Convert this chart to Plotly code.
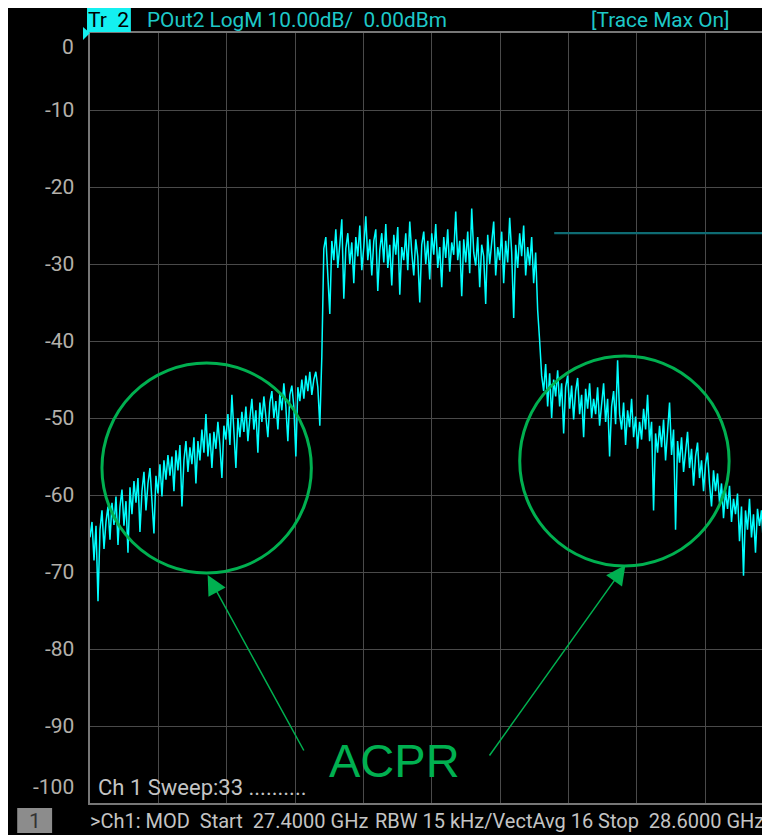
import numpy as np
import plotly.graph_objects as go

# ---------------- data ----------------
start_ghz = 27.4
stop_ghz = 28.6

left_skirt_db = [
    -65.5, -63.5, -68.5, -64.0, -73.8, -64.5, -62.0, -67.0, -63.5, -61.5,
    -65.8, -61.0, -63.9, -60.2, -66.5, -61.5, -59.3, -64.0, -60.8, -67.5,
    -59.0, -62.5, -58.2, -61.0, -57.8, -64.8, -59.5, -57.0, -62.0, -58.5,
    -56.5, -60.5, -65.0, -57.5, -59.8, -56.0, -60.2, -55.5, -58.0, -54.8,
    -57.5, -55.0, -59.5, -54.2, -56.8, -53.5, -61.5, -55.5, -53.0, -57.0,
    -53.8, -56.0, -52.5, -58.5, -53.0, -55.5, -51.5, -54.5, -49.5, -55.0,
    -52.0, -56.5, -51.8, -54.0, -50.5, -53.5, -57.8, -51.0, -52.8, -49.5,
    -53.5, -47.0, -51.5, -56.5, -50.0, -52.5, -49.2, -51.8, -48.5, -53.0,
    -50.0, -47.5, -51.5, -49.0, -54.5, -48.0, -50.5, -47.2, -49.8, -52.5,
    -48.0, -46.5, -50.0, -47.8, -51.5, -46.8, -49.0, -45.5, -48.5, -53.0,
    -47.0, -45.8, -48.5, -55.0, -46.0, -47.8, -45.0, -47.5, -44.5, -46.5,
    -44.0, -47.0, -45.0, -44.0, -46.0, -51.0, -42.0,
]

main_band_db = [
    -28.0, -26.5, -31.0, -36.5, -27.0, -29.5, -25.5, -30.5, -27.5, -24.2,
    -34.5, -28.0, -26.0, -30.0, -27.2, -32.5, -26.5, -29.0, -25.0, -30.8,
    -27.8, -23.8, -29.5, -26.8, -31.5, -27.0, -25.5, -33.5, -28.2, -26.0,
    -29.8, -24.8, -30.5, -27.5, -32.8, -26.2, -28.8, -25.2, -34.0, -27.8,
    -29.5, -26.0, -30.8, -24.5, -28.5, -31.5, -26.8, -29.0, -35.0, -27.5,
    -25.8, -30.0, -27.0, -32.0, -26.0, -28.8, -24.8, -30.5, -27.8, -33.0,
    -26.5, -29.2, -25.5, -31.0, -27.2, -28.8, -23.2, -29.5, -27.0, -34.2,
    -26.8, -29.8, -25.8, -31.2, -22.8, -28.5, -30.2, -26.5, -33.0, -27.5,
    -29.0, -35.2, -26.2, -30.0, -27.2, -24.5, -31.5, -27.8, -29.5, -25.8,
    -32.5, -27.0, -29.8, -24.0, -28.5, -37.0, -27.5, -30.5, -26.0, -29.0,
    -25.0, -31.5, -27.8, -30.2, -26.5, -32.5, -28.5, -36.0,
]

right_skirt_db = [
    -40.0, -44.5, -46.5, -43.0, -48.5, -44.2, -50.0, -45.0, -47.2, -43.8,
    -48.5, -45.5, -52.0, -46.0, -44.5, -48.8, -45.8, -50.2, -46.5, -44.8,
    -49.5, -47.0, -52.5, -46.2, -48.8, -45.5, -50.0, -47.5, -49.5, -46.0,
    -51.0, -48.0, -45.5, -50.5, -47.5, -55.0, -48.5, -46.5, -50.8, -42.5,
    -49.5, -51.5, -48.0, -53.5, -49.0, -51.2, -47.5, -52.5, -49.8, -54.0,
    -50.5, -52.8, -48.8, -51.5, -47.0, -53.0, -50.5, -62.0, -52.0, -54.5,
    -51.0, -53.8, -50.2, -55.5, -52.2, -48.0, -54.8, -51.5, -64.5, -53.0,
    -55.8, -52.5, -57.0, -53.8, -51.8, -56.5, -54.0, -58.8, -55.0, -53.2,
    -57.8, -55.5, -59.5, -56.0, -54.5, -58.5, -61.5, -56.8, -59.5, -57.2,
    -61.0, -58.5, -63.0, -59.5, -61.8, -58.8, -63.5, -60.5, -62.5, -59.8,
    -66.0, -61.5, -70.5, -62.0, -64.5, -60.5, -65.5, -62.5, -67.5, -61.8,
    -64.0, -62.0, -66.8, -63.0, -68.0, -63.5, -65.5, -62.5,
]

ref_line_ghz = [28.215, 28.6]
ref_line_db = [-26.0, -26.0]

y_tick_vals = [0, -10, -20, -30, -40, -50, -60, -70, -80, -90, -100]
y_tick_text = ["0", "-10", "-20", "-30", "-40", "-50", "-60", "-70", "-80", "-90", "-100"]

trace_db = left_skirt_db + main_band_db + right_skirt_db
freq_ghz = np.linspace(start_ghz, stop_ghz, len(trace_db))

# ---------------- layout helpers ----------------
# the page body adds an 8px margin, so the figure is 8px smaller
OFF = 8
W, H = 770 - OFF, 835 - OFF
L, R, T, B = 90, 770, 33, 803  # plot area in screen pixels


def xp(px):
    return (px - L) / (R - L)


def yp(py):
    return (B - py) / (B - T)


FONT = "Roboto, Liberation Sans, sans-serif"
CYAN = "#00ffff"
HDR = "#1ec8c8"
GRAY_TXT = "#c4c4c4"
GREEN = "#00b050"

span = stop_ghz - start_ghz
x_end = start_ghz + span * (R - L) / 685.5

fig = go.Figure()
fig.add_trace(go.Scatter(x=freq_ghz, y=trace_db, mode="lines",
                         line=dict(color=CYAN, width=1.5), hoverinfo="skip"))
fig.add_trace(go.Scatter(x=ref_line_ghz, y=ref_line_db, mode="lines",
                         line=dict(color="#0e6b73", width=2.2), hoverinfo="skip"))

shapes = []
# Tr 2 box
shapes.append(dict(type="rect", xref="paper", yref="paper", x0=xp(87), x1=xp(131),
                   y0=yp(7), y1=yp(32), fillcolor="#14f0f0", line=dict(width=0)))
# reference marker triangle
shapes.append(dict(type="path", xref="paper", yref="paper",
                   path="M {} {} L {} {} L {} {} Z".format(xp(83), yp(27), xp(90), yp(33), xp(83), yp(40)),
                   fillcolor="#14f0f0", line=dict(width=0)))
# channel box "1"
shapes.append(dict(type="rect", xref="paper", yref="paper", x0=xp(17), x1=xp(52),
                   y0=yp(808), y1=yp(833), fillcolor="#8c8c8c", line=dict(width=0)))
# ACPR circles
for cx, cy in [(207, 468), (626, 461)]:
    shapes.append(dict(type="circle", xref="paper", yref="paper",
                       x0=xp(cx - 105), x1=xp(cx + 105), y0=yp(cy + 105), y1=yp(cy - 105),
                       line=dict(color=GREEN, width=3)))

ann = []
for v, t in zip(y_tick_vals, y_tick_text):
    yy = v
    if v == 0:
        yy = -1.8
    elif v == -100:
        yy = -97.9
    ann.append(dict(x=xp(76), xref="paper", y=yy, yref="y", text=t, showarrow=False,
                    xanchor="right", yanchor="middle",
                    font=dict(family=FONT, size=21, color="#b4b0aa")))

ann.append(dict(x=xp(109), y=yp(20), xref="paper", yref="paper", text="Tr\u00a0\u00a02",
                showarrow=False, xanchor="center", yanchor="middle",
                font=dict(family=FONT, size=21, color="black")))
ann.append(dict(x=xp(145), y=yp(20), xref="paper", yref="paper",
                text="POut2 LogM 10.00dB/\u00a0\u00a00.00dBm",
                showarrow=False, xanchor="left", yanchor="middle",
                font=dict(family=FONT, size=20.8, color=HDR)))
ann.append(dict(x=xp(733), y=yp(20), xref="paper", yref="paper",
                text="[Trace Max On]",
                showarrow=False, xanchor="right", yanchor="middle",
                font=dict(family=FONT, size=20.8, color=HDR)))
ann.append(dict(x=xp(96), y=yp(787), xref="paper", yref="paper",
                text="Ch 1 Sweep:33 ..........",
                showarrow=False, xanchor="left", yanchor="middle",
                font=dict(family=FONT, size=22, color=GRAY_TXT)))
ann.append(dict(x=xp(34.5), y=yp(820.5), xref="paper", yref="paper", text="1",
                showarrow=False, xanchor="center", yanchor="middle",
                font=dict(family=FONT, size=21, color="#333333")))
ann.append(dict(x=xp(88), y=yp(821), xref="paper", yref="paper",
                text=">Ch1: MOD\u00a0 Start\u00a0 27.4000 GHz",
                showarrow=False, xanchor="left", yanchor="middle",
                font=dict(family=FONT, size=20, color=GRAY_TXT)))
ann.append(dict(x=xp(374), y=yp(821), xref="paper", yref="paper",
                text="RBW 15 kHz/VectAvg 16",
                showarrow=False, xanchor="left", yanchor="middle",
                font=dict(family=FONT, size=20, color=GRAY_TXT)))
ann.append(dict(x=xp(768), y=yp(821), xref="paper", yref="paper",
                text="Stop\u00a0 28.6000 GHz",
                showarrow=False, xanchor="right", yanchor="middle",
                font=dict(family=FONT, size=20, color=GRAY_TXT)))
ann.append(dict(x=xp(395), y=yp(760), xref="paper", yref="paper", text="ACPR",
                showarrow=False, xanchor="center", yanchor="middle",
                font=dict(family="Liberation Sans, Arial, sans-serif", size=47, color=GREEN)))
# arrows
for (tx, ty), (sx, sy) in [((208, 575), (305, 752)), ((627, 565), (490, 757))]:
    ann.append(dict(x=xp(tx), y=yp(ty), xref="paper", yref="paper", text="",
                    showarrow=True, ax=sx - tx, ay=sy - ty, axref="pixel", ayref="pixel",
                    arrowhead=2, arrowsize=2.6, arrowwidth=1.5, arrowcolor=GREEN, standoff=0))

fig.update_layout(
    width=W, height=H,
    margin=dict(l=L - OFF, r=W - (R - OFF), t=T - OFF, b=H - (B - OFF), pad=0),
    paper_bgcolor="black", plot_bgcolor="black",
    showlegend=False,
    shapes=shapes, annotations=ann,
    xaxis=dict(range=[start_ghz, x_end], tick0=start_ghz, dtick=span / 10,
               showgrid=True, gridcolor="#4a4a4a", gridwidth=1.3,
               showticklabels=False, ticks="", zeroline=False,
               showline=True, linecolor="#777777", linewidth=1.5, mirror=True),
    yaxis=dict(range=[-100, 0], tickvals=y_tick_vals,
               showgrid=True, gridcolor="#4a4a4a", gridwidth=1.3,
               showticklabels=False, ticks="", zeroline=False,
               showline=True, linecolor="#777777", linewidth=1.5, mirror=True),
)

fig.write_html("out.html")
